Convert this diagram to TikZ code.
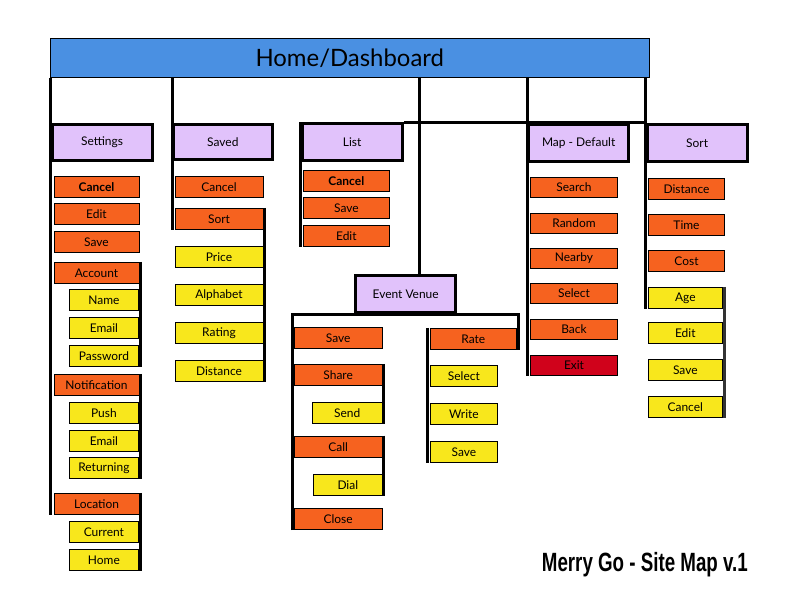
\documentclass[tikz,border=0pt]{standalone}
\usepackage{fontspec}
\setmainfont{Lato}
\newfontfamily\titlefont[FakeStretch=0.71]{Liberation Sans}
\definecolor{cOrange}{HTML}{F6621F}
\definecolor{cYellow}{HTML}{F8E71C}
\definecolor{cPurple}{HTML}{E1C2FB}
\definecolor{cBlue}{HTML}{4A90E2}
\definecolor{cRed}{HTML}{D0021B}
\tikzset{
  base/.style={draw=black, line width=0.9bp, inner sep=0pt, text=black, font=\fontsize{12}{14}\selectfont},
  act/.style={base, fill=cOrange},
  sub/.style={base, fill=cYellow},
  ext/.style={base, fill=cRed},
  lvl/.style={base, fill=cPurple, line width=3bp},
  hdr/.style={base, fill=cBlue, font=\fontsize{24}{28}\selectfont},
  conn/.style={draw=black, line width=3bp},
  gconn/.style={draw=black!80, line width=3bp},
}
\newcommand\bx[7]{\node[#2, minimum width={(#5-#3)*1bp}, minimum height={(#6-#4)*1bp}] (#1) at ({(#3+#5)/2},{(#4+#6)/2}) {#7};}
\begin{document}
\begin{tikzpicture}[x=1bp,y=-1bp]
\useasboundingbox[fill=white] (0,0) rectangle (792,612);
% header
\bx{header}{hdr}{50.5}{38.5}{649}{77.8}{Home/Dashboard}
% level 1
\bx{settings}{lvl}{52}{124.5}{152}{160.5}{Settings}
\bx{saved}{lvl}{173.7}{124.5}{272}{160}{Saved}
\bx{list}{lvl}{302}{124}{402.3}{161}{List}
\bx{map}{lvl}{528.5}{124.8}{628.8}{161.2}{Map - Default}
\bx{sortb}{lvl}{647}{124.8}{747.2}{161.2}{Sort}
\bx{ev}{lvl}{355.5}{275.8}{455.8}{312.5}{Event Venue}
% settings children
\bx{scancel}{act}{54}{176.5}{139}{197.3}{\bfseries Cancel}
\bx{sedit}{act}{54}{203.3}{139}{224.3}{Edit}
\bx{ssave}{act}{54}{231.3}{139}{252.3}{Save}
\bx{account}{act}{54}{262.3}{139}{283.3}{Account}
\bx{name}{sub}{69.3}{289.3}{138.5}{310.3}{Name}
\bx{email}{sub}{69.3}{317.3}{138.5}{338.3}{Email}
\bx{password}{sub}{69.3}{345.3}{138.5}{366.3}{Password}
\bx{notif}{act}{54}{374.3}{139}{395.3}{Notification}
\bx{push}{sub}{69.3}{402.3}{138.5}{423.3}{Push}
\bx{email2}{sub}{69.3}{430.3}{138.5}{451.3}{Email}
\bx{returning}{sub}{69.3}{457.3}{138.5}{478.3}{Returning}
\bx{location}{act}{54}{493.3}{139}{514.3}{Location}
\bx{current}{sub}{69.3}{521.3}{138.5}{542.3}{Current}
\bx{home}{sub}{69.3}{549.3}{138.5}{570.3}{Home}
% saved children
\bx{vcancel}{act}{175}{176.7}{263}{197.3}{Cancel}
\bx{vsort}{act}{175}{208.3}{263}{229.3}{Sort}
\bx{price}{sub}{175}{246.3}{263}{267.3}{Price}
\bx{alphabet}{sub}{175}{284.3}{263}{305.3}{Alphabet}
\bx{rating}{sub}{175}{322.3}{263}{343.3}{Rating}
\bx{vdistance}{sub}{175}{360.3}{263}{381.3}{Distance}
% list children
\bx{lcancel}{act}{303}{170.3}{389.7}{191.3}{\bfseries Cancel}
\bx{lsave}{act}{303}{197.3}{389.7}{218.3}{Save}
\bx{ledit}{act}{303}{225}{389.7}{246.3}{Edit}
% event venue children
\bx{esave}{act}{294}{327.3}{382.3}{348.7}{Save}
\bx{share}{act}{294}{364.3}{382.3}{385.7}{Share}
\bx{send}{sub}{312.3}{402.3}{382}{423.7}{Send}
\bx{call}{act}{294}{436}{382.3}{457.3}{Call}
\bx{dial}{sub}{313.3}{474}{382.3}{495.7}{Dial}
\bx{close}{act}{294}{508.3}{382.3}{529.7}{Close}
\bx{rate}{act}{430}{328.3}{516.7}{349.7}{Rate}
\bx{rselect}{sub}{430}{365.3}{497.7}{386.7}{Select}
\bx{write}{sub}{430}{403.3}{497.7}{424.7}{Write}
\bx{rsave}{sub}{430}{441.3}{497.7}{462.7}{Save}
% map children
\bx{search}{act}{530.3}{177.3}{617.7}{197.7}{Search}
\bx{random}{act}{530.3}{213.3}{617.7}{233.7}{Random}
\bx{nearby}{act}{530.3}{248.3}{617.7}{268.7}{Nearby}
\bx{mselect}{act}{530.3}{283.3}{617.7}{303.7}{Select}
\bx{back}{act}{530.3}{319.3}{617.7}{339.7}{Back}
\bx{exit}{ext}{530.3}{355.3}{617.7}{375.7}{Exit}
% sort children
\bx{odist}{act}{648.3}{178.3}{724.7}{199.7}{Distance}
\bx{time}{act}{648.3}{214.3}{724.7}{235.7}{Time}
\bx{cost}{act}{648.3}{250.3}{724.7}{271.7}{Cost}
\bx{age}{sub}{648.3}{287.3}{722.3}{308.7}{Age}
\bx{oedit}{sub}{648.3}{322.3}{722.3}{343.3}{Edit}
\bx{osave}{sub}{648.3}{359.3}{722.3}{380.3}{Save}
\bx{ocancel}{sub}{648.3}{396.3}{722.3}{417.3}{Cancel}
% connectors
\coordinate (evj) at (419,275.8);
\draw[conn] (header.south -| settings.west) -- (settings.west |- location.south);
\draw[conn] ([xshift=1.2bp]account.north east) -- ([xshift=1.2bp]account.east |- password.south);
\draw[conn] ([xshift=1.2bp]notif.north east) -- ([xshift=1.2bp]notif.east |- returning.south);
\draw[conn] ([xshift=1.2bp]location.north east) -- ([xshift=1.2bp]location.east |- home.south);
\draw[conn] (header.south -| saved.west) -- (saved.west |- vsort.south);
\draw[conn] ([xshift=1.5bp]vsort.north east) -- ([xshift=1.5bp]vsort.east |- vdistance.south);
\draw[conn] (list.north west) -- (list.west |- ledit.south);
\draw[conn] (list.north east) -- (list.north east -| sortb.west);
\draw[conn] (header.south -| evj) -- (evj);
\draw[conn] ([xshift=-1.5bp]close.south west) -- ([xshift=-1.5bp]close.west |- ev.south) -- ([xshift=1.5bp]rate.east |- ev.south) -- ([xshift=1.5bp]rate.south east);
\draw[conn] ([xshift=1.2bp]share.north east) -- ([xshift=1.2bp]share.east |- send.south);
\draw[conn] ([xshift=1.2bp]call.north east) -- ([xshift=1.2bp]call.east |- dial.south);
\draw[conn] ([xshift=-1.6bp]rate.north west) -- ([xshift=-1.6bp]rate.west |- rsave.south);
\draw[conn] (header.south -| map.west) -- (map.west |- exit.south);
\draw[conn] (header.south -| sortb.west) -- (sortb.west |- age.south);
\draw[gconn] ([xshift=1.3bp]age.north east) -- ([xshift=1.3bp]age.east |- ocancel.south);
% title
\node[inner sep=0pt, anchor=base east, font=\titlefont\bfseries\fontsize{26.5}{30}\selectfont] (title) at (748,571) {Merry Go - Site Map v.1};
\end{tikzpicture}
\end{document}
